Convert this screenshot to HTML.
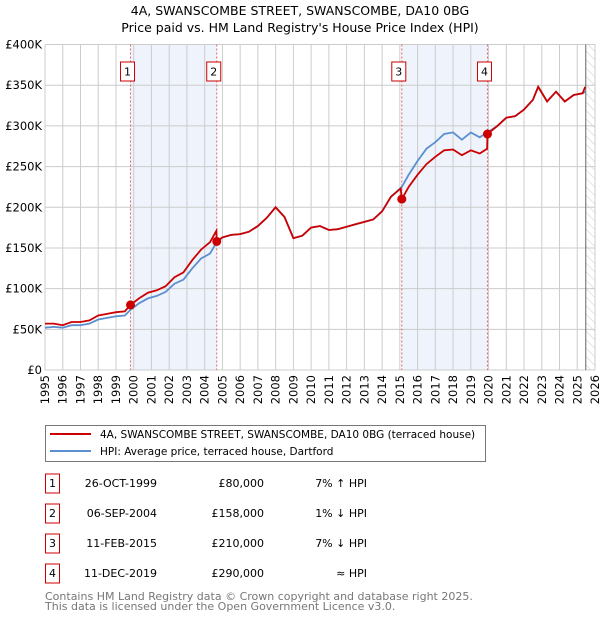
<!DOCTYPE html>
<html><head><meta charset="utf-8"><style>
body{margin:0;background:#fff;width:600px;height:620px;overflow:hidden}
svg text{font-family:"DejaVu Sans","Liberation Sans",sans-serif}
</style></head><body>
<svg id="c" width="600" height="620" xmlns="http://www.w3.org/2000/svg">
<defs><pattern id="hatch" width="6" height="6" patternUnits="userSpaceOnUse" patternTransform="rotate(-45)"><line x1="0" y1="0" x2="0" y2="6" stroke="#ccc" stroke-width="1"/></pattern></defs>
<text x="300" y="15" text-anchor="middle" font-size="12.5">4A, SWANSCOMBE STREET, SWANSCOMBE, DA10 0BG</text>
<text x="300" y="32" text-anchor="middle" font-size="12.5">Price paid vs. HM Land Registry's House Price Index (HPI)</text>
<g id="plot"></g>
<g>
<rect x="45.5" y="425.5" width="440" height="36" fill="#fff" stroke="#777"/>
<line x1="50" y1="434" x2="91" y2="434" stroke="#cc0000" stroke-width="2"/>
<text x="100" y="438" font-size="10.5">4A, SWANSCOMBE STREET, SWANSCOMBE, DA10 0BG (terraced house)</text>
<line x1="50" y1="451" x2="91" y2="451" stroke="#5b8fd0" stroke-width="2"/>
<text x="100" y="455" font-size="10.5">HPI: Average price, terraced house, Dartford</text>
</g>
<g id="table" font-size="11"></g>
<text x="45" y="600" font-size="11" fill="#777">Contains HM Land Registry data © Crown copyright and database right 2025.</text>
<text x="45" y="610" font-size="11" fill="#777">This data is licensed under the Open Government Licence v3.0.</text>
</svg>
<script>
const hpiYears=[1995,1995.5,1996,1996.5,1997,1997.5,1998,1998.5,1999,1999.5,1999.82,2000.3,2000.8,2001.3,2001.8,2002.3,2002.8,2003.3,2003.8,2004.3,2004.68,2005,2005.5,2006,2006.5,2007,2007.5,2008,2008.5,2009,2009.5,2010,2010.5,2011,2011.5,2012,2012.5,2013,2013.5,2014,2014.5,2015.11,2015.5,2016,2016.5,2017,2017.5,2018,2018.5,2019,2019.5,2019.94,2020.5,2021,2021.5,2022,2022.5,2022.8,2023.3,2023.8,2024.3,2024.8,2025.3,2025.45];
const hpiValues=[52,53,52,55,55,57,62,64,66,67,74,82,88,91,96,106,111,125,137,143,157,163,166,167,170,177,187,200,188,162,165,175,177,172,173,176,179,182,185,195,213,225,240,257,272,280,290,292,283,292,286,292,300,310,312,320,332,348,330,342,330,338,340,342];
const redYears=[1995,1995.5,1996,1996.5,1997,1997.5,1998,1998.5,1999,1999.5,1999.82,2000.3,2000.8,2001.3,2001.8,2002.3,2002.8,2003.3,2003.8,2004.3,2004.66,2004.68,2005,2005.5,2006,2006.5,2007,2007.5,2008,2008.5,2009,2009.5,2010,2010.5,2011,2011.5,2012,2012.5,2013,2013.5,2014,2014.5,2015.05,2015.11,2015.5,2016,2016.5,2017,2017.5,2018,2018.5,2019,2019.5,2019.92,2019.94,2020.5,2021,2021.5,2022,2022.5,2022.8,2023.3,2023.8,2024.3,2024.8,2025.3,2025.45];
const redValues=[57,57,55,59,59,61,67,69,71,72,80,88,95,98,103,114,120,135,148,157,171,158,163,166,167,170,177,187,200,188,162,165,175,177,172,173,176,179,182,185,195,213,223,210,225,240,253,262,270,271,264,270,266,272,290,300,310,312,320,332,348,330,342,330,338,340,348];
const yTicks=[0,50,100,150,200,250,300,350,400];
const yTickLabels=["£0","£50K","£100K","£150K","£200K","£250K","£300K","£350K","£400K"];
const xTicks=[1995,1996,1997,1998,1999,2000,2001,2002,2003,2004,2005,2006,2007,2008,2009,2010,2011,2012,2013,2014,2015,2016,2017,2018,2019,2020,2021,2022,2023,2024,2025,2026];
const saleLabels=["1","2","3","4"];
const saleYears=[1999.82,2004.68,2015.11,2019.94];
const saleValues=[80,158,210,290];
const saleDates=["26-OCT-1999","06-SEP-2004","11-FEB-2015","11-DEC-2019"];
const salePrices=["£80,000","£158,000","£210,000","£290,000"];
const saleHpi=["7% ↑ HPI","1% ↓ HPI","7% ↓ HPI","≈ HPI"];
const shadedSpans=[[1999.82,2004.68],[2015.11,2019.94]];
const futureStart=2025.48;

const X0=45,X1=595,Y0=370,Y1=44.5;
const x=v=>X0+(v-1995)*(X1-X0)/31;
const y=v=>Y0-v*(Y0-Y1)/400;
const NS="http://www.w3.org/2000/svg";
const plot=document.getElementById('plot');
function mk(tag,attrs,parent){const e=document.createElementNS(NS,tag);for(const k in attrs)e.setAttribute(k,attrs[k]);(parent||plot).appendChild(e);return e;}

mk('rect',{x:X0,y:Y1,width:X1-X0,height:Y0-Y1,fill:'#fff'});
shadedSpans.forEach(s=>{const r=mk('rect',{x:x(s[0]),y:Y1,width:x(s[1])-x(s[0]),height:Y0-Y1,fill:'#eef3fc'});

});
const fr=mk('rect',{x:x(futureStart),y:Y1,width:X1-x(futureStart),height:Y0-Y1,fill:'url(#hatch)'});


xTicks.forEach(t=>{mk('line',{x1:x(t),x2:x(t),y1:Y1,y2:Y0,stroke:'#ccc'});
const tx=mk('text',{x:0,y:0,'font-size':11.5,'text-anchor':'end',transform:`translate(${x(t)+4},${Y0+5}) rotate(-90)`});tx.textContent=t;

});
yTicks.forEach((t,i)=>{mk('line',{x1:X0,x2:X1,y1:y(t),y2:y(t),stroke:'#ccc'});
const tx=mk('text',{x:X0-3,y:y(t)+4,'font-size':11.5,'text-anchor':'end'});tx.textContent=yTickLabels[i];

});
mk('line',{x1:x(futureStart),x2:x(futureStart),y1:Y1,y2:Y0,stroke:'#666'});
saleYears.forEach((s,i)=>{mk('line',{x1:x(s),x2:x(s),y1:Y1,y2:Y0,stroke:'#e06666','stroke-dasharray':'2,2'});
const g=mk('g',{});


mk('rect',{x:x(s)-10,y:62,width:14,height:19,fill:'#fff',stroke:'#cc0000'},g);
const t=mk('text',{x:x(s)-3,y:75.5,'font-size':11,'text-anchor':'middle'},g);t.textContent=saleLabels[i];});
const pts=(xs,vs)=>xs.map((a,i)=>x(a).toFixed(1)+','+y(vs[i]).toFixed(1)).join(' ');
const hl=mk('polyline',{points:pts(hpiYears,hpiValues),fill:'none',stroke:'#5b8fd0','stroke-width':1.8});


const rl=mk('polyline',{points:pts(redYears,redValues),fill:'none',stroke:'#cc0000','stroke-width':1.8});


saleYears.forEach((s,i)=>{const c=mk('circle',{cx:x(s),cy:y(saleValues[i]),r:4.5,fill:'#cc0000'});

});

const tb=document.getElementById('table');
saleLabels.forEach((l,i)=>{const yy=483+i*30;
const g=mk('g',{},tb);


mk('rect',{x:45.5,y:yy-9,width:14,height:19,fill:'#fff',stroke:'#cc0000'},g);
let t=mk('text',{x:52.5,y:yy+4,'text-anchor':'middle'},g);t.textContent=l;
t=mk('text',{x:157,y:yy+4,'text-anchor':'end'},g);t.textContent=saleDates[i];
t=mk('text',{x:264,y:yy+4,'text-anchor':'end'},g);t.textContent=salePrices[i];
t=mk('text',{x:367,y:yy+4,'text-anchor':'end'},g);t.textContent=saleHpi[i];});
</script>
</body></html>
